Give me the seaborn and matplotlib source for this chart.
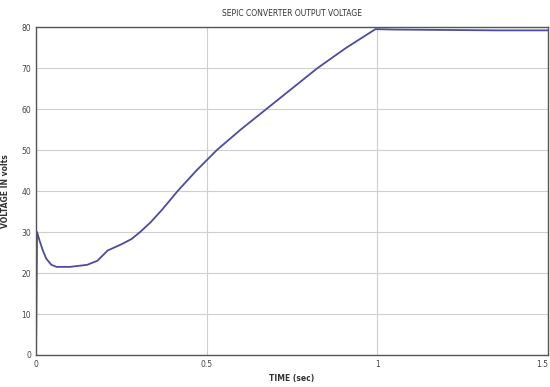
import matplotlib
matplotlib.use("Agg")
import matplotlib.pyplot as plt
import seaborn as sns
import pandas as pd

time_s = [0, 0.003, 0.01, 0.02, 0.03, 0.045, 0.06, 0.1, 0.15, 0.18, 0.21,
          0.25, 0.28, 0.305, 0.335, 0.37, 0.415, 0.47, 0.53, 0.6, 0.675,
          0.75, 0.825, 0.91, 0.995, 1.05, 1.2, 1.35, 1.5]
voltage = [0, 30, 28, 25.5, 23.5, 22, 21.5, 21.5, 22, 23, 25.5,
           27, 28.3, 30, 32.3, 35.5, 40, 45, 50, 55, 60,
           65, 70, 75, 79.5, 79.4, 79.3, 79.2, 79.2]
x_ticks = [0, 0.5, 1, 1.5]
x_tick_labels = ["0", "0.5", "1", "1.5"]
y_ticks = [0, 10, 20, 30, 40, 50, 60, 70, 80]

df = pd.DataFrame({"time": time_s, "voltage": voltage})

sns.set_style("white")
plt.rcParams["font.family"] = ["DejaVu Sans"]

fig = plt.figure(figsize=(5.5, 3.87), dpi=100)
ax = fig.add_axes([0.0655, 0.0827, 0.9305, 0.8473])

sns.lineplot(data=df, x="time", y="voltage", ax=ax, color="#4b4ba6", linewidth=1.3)

ax.set_xlim(0, 1.5)
ax.set_ylim(0, 80)
ax.set_xticks(x_ticks)
ax.set_xticklabels(x_tick_labels)
ax.get_xticklabels()[-1].set_horizontalalignment("right")
ax.set_yticks(y_ticks)
ax.grid(True, color="#cfcfcf", linewidth=0.8, linestyle="-")
for s in ax.spines.values():
    s.set_color("#555555")
    s.set_linewidth(1.0)
ax.tick_params(axis="both", labelsize=5.5, colors="#444444", length=3, direction="in")
ax.set_xlabel("TIME (sec)", fontsize=5.5, color="#333333", fontweight="bold", labelpad=4)
ax.set_ylabel("VOLTAGE IN volts", fontsize=5.5, color="#333333", fontweight="bold", labelpad=8)
ax.set_title("SEPIC CONVERTER OUTPUT VOLTAGE", fontsize=5.5, color="#333333", pad=8)

fig.savefig("out.png", dpi=100)
